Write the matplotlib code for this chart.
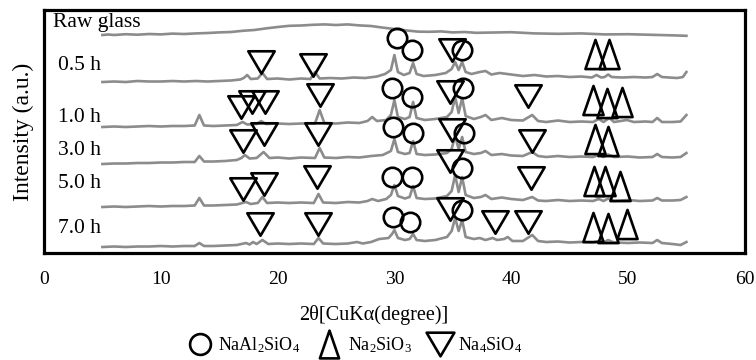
import numpy as np
import matplotlib
matplotlib.use("Agg")
import matplotlib.pyplot as plt
from matplotlib.path import Path
from matplotlib.markers import MarkerStyle
from matplotlib.lines import Line2D

plt.rcParams["font.family"] = ["Liberation Serif", "DejaVu Serif"]
plt.rcParams["mathtext.fontset"] = "custom"
plt.rcParams["mathtext.rm"] = "Liberation Serif"
plt.rcParams["mathtext.it"] = "Liberation Serif:italic"

# XRD traces: (2theta, intensity above the trace's own baseline, a.u.)
raw_glass = [(5, 0), (5.5, 0.5), (6, 0), (7, 0.8), (8, 0.3), (9, 1), (10, 0.6), (11, 1.4),
             (12, 1), (13, 1.6), (14, 2), (15, 2.6), (16, 3), (17, 4.2), (18, 5), (19, 6.6),
             (20, 8), (21, 9.2), (22, 9.5), (23, 10.2), (24, 10.6), (25, 10), (26, 10.6),
             (27, 9.6), (28, 9), (29, 7.4), (30, 6), (31, 4.6), (32, 3.4), (33, 3.2), (34, 3.6),
             (35, 2.6), (36, 3), (37, 2.2), (38, 2.4), (40, 2.8), (42, 1.6), (44, 1.2),
             (46, 1.6), (48, 0.6), (50, 0.8), (52, 0.2), (54, -0.4), (55, -0.8)]

h05 = [(5, 0), (6, 0.5), (7, 0), (8, 1), (9, 0.5), (10, 0.5), (11, 1), (12, 0.5), (13, 1),
       (14, 0.5), (15, 1), (16, 1.5), (16.8, 2.5), (17.1, 4), (17.4, 7), (17.7, 3), (18.3, 3.5),
       (18.7, 9), (19.1, 3), (20, 3.5), (21, 2.5), (22, 3.5), (22.8, 3), (23.2, 10), (23.6, 3.5),
       (24.5, 4), (25.5, 3.5), (26.5, 4.5), (27.5, 4), (28.5, 5.5), (29.2, 8), (29.7, 12),
       (30.0, 27), (30.3, 10), (30.8, 7), (31.3, 9), (31.6, 19), (31.9, 8), (32.5, 6),
       (33.5, 7), (34.4, 9), (34.9, 13), (35.2, 20), (35.5, 12), (35.8, 20), (36.1, 10),
       (36.6, 8), (37.3, 10), (37.8, 11), (38.3, 7.5), (39, 9), (40, 7.5), (41, 6), (42, 7),
       (43, 5.5), (44, 6), (45, 5), (46, 5.5), (46.9, 4.5), (47.3, 7), (47.7, 4.5), (48.0, 5),
       (48.3, 7.5), (48.6, 5), (49.5, 4.5), (50.5, 5), (51.5, 4.5), (52.1, 5), (52.5, 8),
       (52.9, 5), (53.5, 4.5), (54.2, 4), (54.7, 5), (55, 10)]

h10 = [(5, 0), (6, 0.5), (7, 0), (8, 0.5), (9, 1), (10, 0.5), (11, 1), (12, 1), (12.9, 1.5),
       (13.3, 12), (13.7, 1.5), (14.5, 1), (15.5, 1.5), (16.5, 2), (17.0, 5), (17.4, 2.5),
       (18.2, 3), (18.6, 6), (19.0, 3), (20, 3.5), (21, 3), (22, 3.5), (23.2, 3.5), (23.6, 17),
       (24.0, 4), (25, 3.5), (26, 4.5), (27, 4), (27.7, 6), (28.1, 10), (28.5, 6), (29.3, 7),
       (29.7, 12), (30.0, 27), (30.3, 10), (30.9, 8), (31.3, 10), (31.6, 25), (31.9, 9),
       (32.6, 7), (33.5, 8), (34.5, 10), (34.9, 15), (35.2, 30), (35.5, 14), (35.8, 29),
       (36.1, 11), (36.8, 8), (37.4, 10), (37.8, 12), (38.3, 7), (39.2, 9), (40, 7),
       (41.0, 6.5), (41.8, 12), (42.3, 6), (43, 5), (44, 6.5), (45, 5), (46, 5.5), (47.0, 5),
       (47.5, 8), (47.9, 5), (48.4, 9), (48.8, 5), (49.9, 7), (50.5, 5), (51.5, 5.5),
       (52.1, 5), (52.5, 9), (52.9, 5), (53.8, 5), (54.5, 5.5), (55, 12)]

h30 = [(5, 0), (6, 0.5), (7, 0.5), (8, 1), (9, 1), (10, 1.5), (11, 1.5), (12, 2), (12.9, 2),
       (13.3, 8), (13.7, 2.5), (14.5, 2.5), (15.5, 3), (16.5, 4), (16.9, 6), (17.2, 9),
       (17.6, 5.5), (18.2, 6), (18.8, 12), (19.3, 6), (20, 6.5), (21, 5.5), (22, 6.5),
       (23.2, 6), (23.6, 16), (24.0, 6.5), (25, 6), (26, 7), (27, 6.5), (28, 8), (29, 9),
       (29.7, 13), (30.0, 25), (30.3, 12), (30.9, 10), (31.3, 11), (31.6, 23), (31.9, 10),
       (32.6, 9), (33.5, 9.5), (34.5, 11), (34.9, 15), (35.2, 28), (35.5, 15), (35.8, 27),
       (36.1, 12), (36.8, 10), (37.4, 11), (37.8, 13), (38.3, 9), (39.2, 10), (40, 8.5),
       (41.0, 8), (41.8, 12), (42.3, 8), (43, 7), (44, 8), (45, 7), (46, 7.5), (47.0, 7),
       (47.5, 9), (47.9, 7), (48.3, 9.5), (48.8, 7), (50, 7.5), (51, 6.5), (52.1, 7),
       (52.5, 10), (52.9, 7), (53.8, 6.5), (54.5, 7), (55, 11)]

h50 = [(5, 0), (6, 0.5), (7, 0), (8, 0.5), (9, 1), (10, 0.5), (11, 1), (12, 1), (12.9, 1.5),
       (13.3, 9), (13.7, 1.5), (14.5, 1.5), (15.5, 2), (16.5, 2.5), (17.3, 5), (17.7, 3),
       (18.3, 4), (18.7, 10), (19.1, 4), (20, 4.5), (21, 4), (22, 4.5), (23.1, 4), (23.5, 13),
       (23.9, 4.5), (25, 4), (26, 5), (27, 4.5), (27.7, 6), (28.1, 8), (28.6, 6), (29.3, 8),
       (29.7, 12), (30.0, 22), (30.3, 11), (30.9, 8.5), (31.3, 10), (31.6, 21), (31.9, 9),
       (32.6, 8), (33.5, 8.5), (34.5, 11), (34.9, 16), (35.2, 32), (35.5, 15), (35.8, 30),
       (36.1, 12), (36.8, 9), (37.4, 10), (37.8, 12), (38.3, 8), (39.2, 9.5), (40, 8),
       (41.0, 7), (41.8, 10), (42.3, 6.5), (43, 6), (44, 7), (45, 6), (46, 6.5), (47.0, 6),
       (47.5, 8), (47.9, 6), (48.3, 8.5), (48.8, 6), (50, 7), (51, 6), (52.1, 6.5),
       (52.5, 9), (52.9, 6.5), (53.8, 6.5), (54.5, 7), (55, 10)]

h70 = [(5, 0), (6, 0.5), (7, 0), (8, 0.5), (9, 0.5), (10, 1), (11, 0.5), (12, 1), (12.9, 1),
       (13.3, 4), (13.7, 1), (14.5, 1), (15.5, 1.5), (16.5, 2), (17.3, 4), (17.6, 2.5),
       (17.9, 5), (18.2, 3), (18.7, 7), (19.2, 3), (20, 3.5), (21, 3), (22, 3.5), (23.1, 3),
       (23.5, 9), (23.9, 3.5), (25, 3), (26, 3.5), (26.8, 5), (27.3, 3.5), (28, 5), (28.7, 8),
       (29.5, 9), (29.8, 13), (30.0, 17), (30.3, 9), (30.9, 7), (31.3, 8), (31.6, 13),
       (31.9, 7), (32.6, 6), (33.5, 7), (34.5, 10), (34.9, 16), (35.2, 29), (35.5, 16),
       (35.8, 27), (36.1, 10), (36.8, 8), (37.3, 9), (37.8, 7), (38.4, 9), (38.8, 7),
       (39.4, 8), (39.7, 10), (40.1, 6), (41.0, 6), (41.8, 12), (42.3, 6), (43, 5), (44, 5.5),
       (45, 4.5), (46, 5), (47.0, 4.5), (47.5, 6), (47.9, 4.5), (48.3, 7), (48.8, 4.5),
       (50, 4), (51, 4.5), (52.1, 4), (52.5, 7), (52.9, 4), (53.8, 3), (54.5, 2), (55, 5)]

traces = [raw_glass, h05, h10, h30, h50, h70]
trace_labels = ["Raw glass", "0.5 h", "1.0 h", "3.0 h", "5.0 h", "7.0 h"]
trace_offsets = [218, 171, 126, 89, 46, 6]
label_y = [226, 183, 131, 98, 65, 20]

# phase markers (2theta, height on the stacked plot)
naal2sio4 = [(30.2, 215), (31.5, 203), (35.8, 203),
             (29.8, 165), (31.5, 156), (35.9, 165),
             (29.9, 126), (31.6, 120), (36.0, 120),
             (29.8, 76), (31.5, 76), (35.8, 85),
             (29.9, 36), (31.3, 31), (35.8, 43)]
na2sio3 = [(47.2, 199), (48.4, 199),
           (47.0, 153), (48.2, 150), (49.5, 151),
           (47.2, 114), (48.3, 112),
           (47.1, 72), (48.0, 72), (49.3, 67),
           (47.0, 26), (48.3, 25), (49.9, 29)]
na4sio4 = [(18.6, 191), (23.0, 188), (34.9, 203),
           (16.9, 146), (17.8, 151), (18.9, 151), (23.6, 158), (34.8, 161), (41.4, 157),
           (17.0, 112), (18.8, 119), (23.5, 119), (34.9, 123), (41.8, 112),
           (17.0, 64), (18.8, 69), (23.4, 76), (34.8, 92), (41.7, 75),
           (18.5, 29), (23.5, 29), (34.8, 44), (38.6, 31), (41.4, 31)]

tri_up = MarkerStyle(Path([(-0.345, -0.5), (0.345, -0.5), (0, 0.5), (0, 0)], closed=True),
                     joinstyle="miter")
tri_down = MarkerStyle(Path([(-0.5, 0.425), (0.5, 0.425), (0, -0.425), (0, 0)], closed=True),
                       joinstyle="miter")

fig = plt.figure(figsize=(7.56, 3.6), dpi=100)
ax = fig.add_axes([0.0582, 0.2972, 0.927, 0.675])

for tr, off in zip(traces, trace_offsets):
    xy = np.array(tr)
    ax.plot(xy[:, 0], xy[:, 1] + off, color="#8c8c8c", linewidth=1.9, zorder=2)

for lab, ly in zip(trace_labels, label_y):
    lx = 0.77 if lab == "Raw glass" else 1.2
    ax.text(lx, ly, lab, fontsize=15.5, ha="left", va="baseline")

mk = dict(linestyle="none", markerfacecolor="none", markeredgecolor="black",
          markeredgewidth=1.9, zorder=3)
c = np.array(naal2sio4)
ax.plot(c[:, 0], c[:, 1], marker="o", markersize=14, **mk)
u = np.array(na2sio3)
ax.plot(u[:, 0], u[:, 1], marker=tri_up, markersize=21, **mk)
d = np.array(na4sio4)
ax.plot(d[:, 0], d[:, 1], marker=tri_down, markersize=19, **mk)

ax.set_xlim(0, 60)
ax.set_ylim(0, 243)
ax.set_xticks([0, 10, 20, 30, 40, 50, 60])
ax.set_yticks([])
ax.tick_params(axis="x", length=0, pad=13, labelsize=14)
for s in ax.spines.values():
    s.set_linewidth(2.3)
    s.set_color("black")

ax.set_xlabel("2θ[CuKα(degree)]", fontsize=14.5, labelpad=12, x=0.471)
ax.set_ylabel("Intensity (a.u.)", fontsize=17, labelpad=7)

handles = [
    Line2D([], [], marker="o", markersize=15, **mk),
    Line2D([], [], marker=tri_up, markersize=20, **mk),
    Line2D([], [], marker=tri_down, markersize=20, **mk),
]
names = ["NaAl$_2$SiO$_4$", "Na$_2$SiO$_3$", "Na$_4$SiO$_4$"]
fig.legend(handles, names, loc="center", bbox_to_anchor=(0.471, 0.042), ncol=3,
           frameon=False, fontsize=13, handlelength=1.2, handletextpad=0.4,
           columnspacing=1.0, borderpad=0)

fig.savefig("out.png", dpi=100)
